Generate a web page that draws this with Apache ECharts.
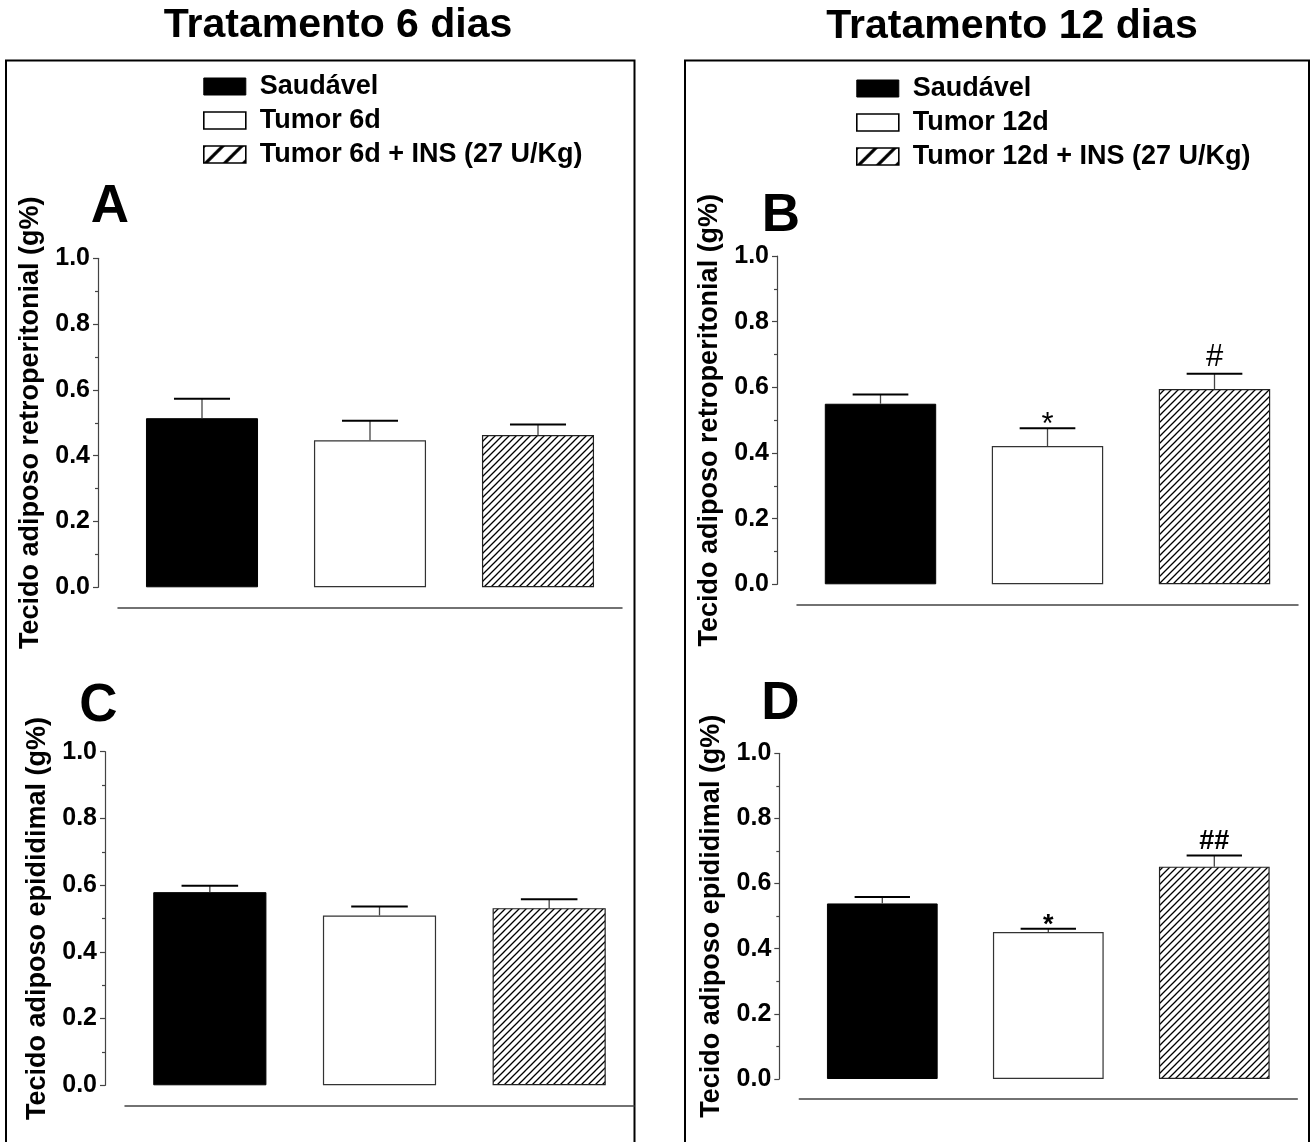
<!DOCTYPE html>
<html>
<head>
<meta charset="utf-8">
<script src="https://cdn.jsdelivr.net/npm/echarts@6/dist/echarts.min.js"></script>
<style>
  html, body { margin: 0; padding: 0; background: #fff; }
  #chart { width: 1312px; height: 1142px; }
</style>
</head>
<body>
<div id="chart"></div>
<script>
// ---- data ----
const groups6 = ['Saudável', 'Tumor 6d', 'Tumor 6d + INS (27 U/Kg)'];
const groups12 = ['Saudável', 'Tumor 12d', 'Tumor 12d + INS (27 U/Kg)'];
const yTicks = [0, 0.2, 0.4, 0.6, 0.8, 1.0];

// retroperitoneal fat (g%), mean and SEM
const retro6Mean = [0.514, 0.447, 0.463];
const retro6Sem = [0.059, 0.059, 0.032];
const retro12Mean = [0.550, 0.421, 0.595];
const retro12Sem = [0.028, 0.054, 0.046];

// epididymal fat (g%), mean and SEM
const epi6Mean = [0.579, 0.509, 0.531];
const epi6Sem = [0.019, 0.027, 0.027];
const epi12Mean = [0.539, 0.451, 0.652];
const epi12Sem = [0.020, 0.010, 0.034];

// significance marks drawn above the error bars
const retro12Marks = ['', '*', '#'];
const epi12Marks = ['', '*', '##'];

const titles = ['Tratamento 6 dias', 'Tratamento 12 dias'];
const retroName = 'Tecido adiposo retroperitonial (g%)';
const epiName = 'Tecido adiposo epididimal (g%)';

// ---- styling ----
const FONT = "'Liberation Sans', Arial, Helvetica, sans-serif";
const BAR_FRAC = 0.667;

function hatch(step, width) {
  const c = document.createElement('canvas');
  c.width = step; c.height = step;
  const g = c.getContext('2d');
  g.fillStyle = '#fff';
  g.fillRect(0, 0, step, step);
  g.strokeStyle = '#000';
  g.lineWidth = width;
  g.beginPath();
  g.moveTo(0, step); g.lineTo(step, 0);
  g.moveTo(-step / 2, step / 2); g.lineTo(step / 2, -step / 2);
  g.moveTo(step / 2, step * 1.5); g.lineTo(step * 1.5, step / 2);
  g.stroke();
  return c;
}
const hatchFine = { image: hatch(7, 1.3), repeat: 'repeat' };
const hatchWide = { image: hatch(19, 3.2), repeat: 'repeat' };

const barStyles = [
  { color: '#000', borderColor: '#000', borderWidth: 1 },
  { color: '#fff', borderColor: '#333', borderWidth: 1.2 },
  { color: hatchFine, borderColor: '#222', borderWidth: 1.2 }
];
const legendIcons = [
  { color: '#000', borderColor: '#000', borderWidth: 1 },
  { color: '#fff', borderColor: '#000', borderWidth: 1.6 },
  { color: hatchWide, borderColor: '#000', borderWidth: 1.6 }
];

const panels = [
  { letter: 'A', groups: groups6, mean: retro6Mean, sem: retro6Sem, marks: null, yName: retroName,
    grid: { left: 118, right: 690, top: 258.3, bottom: 554.7 }, letterAt: [110, 207] },
  { letter: 'B', groups: groups12, mean: retro12Mean, sem: retro12Sem, marks: retro12Marks, yName: retroName,
    grid: { left: 797, right: 14, top: 256, bottom: 557.7 }, letterAt: [781, 216],
    markStyle: { fontWeight: 'normal', fontSize: 31 } },
  { letter: 'C', groups: groups6, mean: epi6Mean, sem: epi6Sem, marks: null, yName: epiName,
    grid: { left: 125, right: 678, top: 751.7, bottom: 56.7 }, letterAt: [98.5, 706] },
  { letter: 'D', groups: groups12, mean: epi12Mean, sem: epi12Sem, marks: epi12Marks, yName: epiName,
    grid: { left: 799.3, right: 14.7, top: 753.3, bottom: 63 }, letterAt: [780.5, 704],
    markStyle: { fontWeight: 'bold', fontSize: 27 } }
];

const grids = [], xAxes = [], yAxes = [], series = [];

panels.forEach((p, pi) => {
  grids.push(Object.assign({ containLabel: false }, p.grid));
  xAxes.push({
    gridIndex: pi, type: 'category', data: p.groups, offset: 20,
    axisLine: { onZero: false, lineStyle: { color: '#444', width: 1.5 } },
    axisTick: { show: false }, axisLabel: { show: false }, splitLine: { show: false }
  });
  yAxes.push({
    gridIndex: pi, type: 'value',
    min: yTicks[0], max: yTicks[yTicks.length - 1], interval: yTicks[1] - yTicks[0],
    offset: 20,
    axisLine: { show: true, lineStyle: { color: '#444', width: 1.2 } },
    axisTick: { show: true, length: 5, lineStyle: { color: '#444', width: 1.2 } },
    minorTick: { show: true, splitNumber: 2, length: 3, lineStyle: { color: '#444', width: 1.2 } },
    splitLine: { show: false },
    axisLabel: { formatter: v => v.toFixed(1), fontSize: 25, fontWeight: 'bold', color: '#000', margin: 8, fontFamily: FONT },
    name: p.yName, nameLocation: 'middle', nameGap: 54,
    nameTextStyle: { fontSize: 27, fontWeight: 'bold', color: '#000', fontFamily: FONT }
  });

  // one bar series per group, overlapping in its own category slot
  p.groups.forEach((g, gi) => {
    series.push({
      type: 'bar', name: g, xAxisIndex: pi, yAxisIndex: pi,
      barWidth: (BAR_FRAC * 100).toFixed(1) + '%', barGap: '-100%',
      itemStyle: barStyles[gi],
      emphasis: { disabled: true }, silent: true,
      data: p.mean.map((v, k) => (k === gi ? v : '-'))
    });
  });

  // SEM error bars (upper half) with significance marks
  series.push({
    type: 'custom', name: 'sem-' + p.letter, xAxisIndex: pi, yAxisIndex: pi, z: 5, silent: true,
    data: p.mean.map((m, k) => [k, m, p.sem[k]]),
    renderItem: (params, api) => {
      const k = api.value(0), m = api.value(1), e = api.value(2);
      const base = api.coord([k, m]);
      const top = api.coord([k, m + e]);
      const band = api.size([1, 0])[0];
      const cap = band * BAR_FRAC / 2;
      const children = [
        { type: 'line', shape: { x1: base[0], y1: base[1], x2: top[0], y2: top[1] },
          style: { stroke: '#444', lineWidth: 1.3 } },
        { type: 'line', shape: { x1: top[0] - cap / 2, y1: top[1], x2: top[0] + cap / 2, y2: top[1] },
          style: { stroke: '#000', lineWidth: 2 } }
      ];
      const mark = p.marks ? p.marks[params.dataIndex] : '';
      if (mark) {
        const fs = p.markStyle.fontSize;
        const dy = mark.charAt(0) === '*' ? 3 : fs * 0.5 + 1;
        children.push({
          type: 'text', x: top[0], y: top[1] - dy,
          style: { text: mark, fill: '#000', fontSize: fs, fontWeight: p.markStyle.fontWeight,
                   fontFamily: FONT, align: 'center', verticalAlign: 'middle' }
        });
      }
      return { type: 'group', children };
    }
  });
});

function legendFor(groups, left, top) {
  return {
    orient: 'vertical', left: left, top: top, icon: 'rect',
    itemWidth: 42, itemHeight: 17, itemGap: 7, selectedMode: false,
    textStyle: { fontSize: 27, fontWeight: 'bold', color: '#000', fontFamily: FONT,
                 lineHeight: 27, padding: [0, 0, 0, 9] },
    data: groups.map((g, gi) => ({ name: g, itemStyle: legendIcons[gi] }))
  };
}

const txt = (text, x, y, size) => ({
  type: 'text', x: x, y: y, silent: true,
  style: { text: text, fill: '#000', fontSize: size, fontWeight: 'bold', fontFamily: FONT,
           align: 'center', verticalAlign: 'middle' }
});

const graphic = [
  { type: 'rect', silent: true, shape: { x: 6, y: 60.5, width: 628.5, height: 1100 },
    style: { fill: 'none', stroke: '#000', lineWidth: 2 } },
  { type: 'rect', silent: true, shape: { x: 685, y: 60.5, width: 624, height: 1100 },
    style: { fill: 'none', stroke: '#000', lineWidth: 2 } },
  txt(titles[0], 338, 26, 41),
  txt(titles[1], 1012, 27, 41)
];
panels.forEach(p => graphic.push(txt(p.letter, p.letterAt[0], p.letterAt[1], 53)));

const chart = echarts.init(document.getElementById('chart'), null, { renderer: 'canvas' });
chart.setOption({
  animation: false,
  backgroundColor: '#fff',
  grid: grids,
  xAxis: xAxes,
  yAxis: yAxes,
  legend: [legendFor(groups6, 198, 68), legendFor(groups12, 851, 70)],
  graphic: graphic,
  series: series
});
</script>
</body>
</html>
